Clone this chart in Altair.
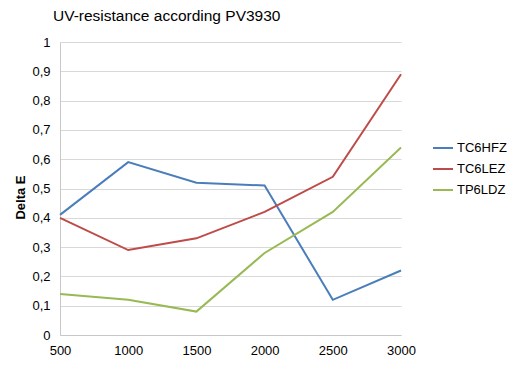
import altair as alt
import pandas as pd

x_vals = [500, 1000, 1500, 2000, 2500, 3000]
tc6hfz = [0.41, 0.59, 0.52, 0.51, 0.12, 0.22]
tc6lez = [0.40, 0.29, 0.33, 0.42, 0.54, 0.89]
tp6ldz = [0.14, 0.12, 0.08, 0.28, 0.42, 0.64]
series_names = ["TC6HFZ", "TC6LEZ", "TP6LDZ"]
colors = ["#4a7ebb", "#be4b48", "#98b954"]

rows = []
for name, vals in zip(series_names, [tc6hfz, tc6lez, tp6ldz]):
    for xv, yv in zip(x_vals, vals):
        rows.append({"x": xv, "y": yv, "series": name})
df = pd.DataFrame(rows)

font = "Liberation Sans"

chart = alt.Chart(df).mark_line(strokeWidth=2).encode(
    x=alt.X("x:Q", scale=alt.Scale(domain=[500, 3000], nice=False, zero=False),
            axis=alt.Axis(values=x_vals, format="d", title=None, grid=False, ticks=False,
                          labelPadding=9, labelFontSize=13, labelColor="#000000",
                          labelFont=font, domainColor="#c8c8c8", labelFlush=False)),
    y=alt.Y("y:Q", scale=alt.Scale(domain=[0, 1], nice=False),
            axis=alt.Axis(values=[i / 10 for i in range(11)],
                          labelExpr="replace(format(datum.value, '.1~f'), '.', ',')",
                          title="Delta E", titleFont=font, titleFontSize=13, titleFontWeight="bold",
                          titleColor="#000000", titleX=-40, titleY=155, titleAngle=270,
                          titleAlign="center", titleBaseline="middle",
                          ticks=False, labelPadding=10, labelFontSize=13, labelColor="#000000",
                          labelFont=font, domainColor="#c8c8c8", gridColor="#d9d9d9")),
    color=alt.Color("series:N", scale=alt.Scale(domain=series_names, range=colors),
                    legend=alt.Legend(title=None, orient="none", legendX=372, legendY=95,
                                      symbolType="stroke", symbolSize=400, symbolStrokeWidth=2,
                                      labelFont=font, labelFontSize=13, labelColor="#000000",
                                      labelOffset=3, rowPadding=3)),
).properties(
    width=341, height=293,
    title=alt.TitleParams("UV-resistance according PV3930", anchor="start", frame="group",
                          dx=-7, offset=12,
                          font=font, fontSize=15.5, fontWeight="normal", color="#000000"),
    autosize=alt.AutoSizeParams(type="none"),
    padding={"left": 52, "top": 34, "right": 106, "bottom": 30},
).configure_view(stroke=None)

chart.save("out.html", embed_options={"renderer": "svg", "actions": False})
